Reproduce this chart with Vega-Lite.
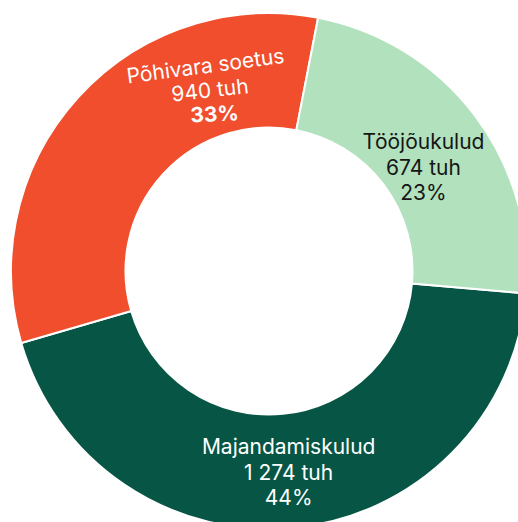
{
  "$schema": "https://vega.github.io/schema/vega-lite/v6.json",
  "width": 538,
  "height": 542,
  "autosize": {"type": "none"},
  "padding": 0,
  "background": "white",
  "config": {"view": {"stroke": null}, "font": "Inter"},
  "data": {
    "values": [
      {"category": "Majandamiskulud", "value": 1274, "amount": "1 274 tuh", "pct": "44%"},
      {"category": "Põhivara soetus", "value": 940, "amount": "940 tuh", "pct": "33%"},
      {"category": "Tööjõukulud", "value": 674, "amount": "674 tuh", "pct": "23%"}
    ]
  },
  "transform": [
    {"calculate": "[datum.category, datum.amount, datum.pct]", "as": "lines"}
  ],
  "encoding": {
    "theta": {"field": "value", "type": "quantitative", "stack": true, "scale": {"range": [1.658, 7.941]}},
    "order": {"field": "category", "sort": "ascending"}
  },
  "layer": [
    {
      "mark": {"type": "arc", "innerRadius": 143.5, "outerRadius": 258, "stroke": "white", "strokeWidth": 2},
      "encoding": {
        "color": {
          "field": "category",
          "type": "nominal",
          "legend": null,
          "scale": {
            "domain": ["Majandamiskulud", "Põhivara soetus", "Tööjõukulud"],
            "range": ["#075645", "#F04E2C", "#B2E1BE"]
          }
        }
      }
    },
    {
      "mark": {"type": "text", "radius": 170, "dx": 18.7, "dy": -19.2, "align": "center", "baseline": "alphabetic", "fontSize": 21, "lineHeight": 25.5, "color": "#161616"},
      "encoding": {
        "text": {"condition": {"test": "datum.category === 'Tööjõukulud'", "field": "lines"}, "value": ""}
      }
    },
    {
      "mark": {"type": "text", "radius": 185, "dx": 1.6, "dy": -0.8, "align": "center", "baseline": "alphabetic", "fontSize": 21, "lineHeight": 25.5, "color": "white"},
      "encoding": {
        "text": {"condition": {"test": "datum.category === 'Majandamiskulud'", "field": "lines"}, "value": ""}
      }
    },
    {
      "mark": {"type": "text", "radius": 200, "dx": 92.6, "dy": -51.4, "angle": {"expr": "-7.5"}, "align": "center", "baseline": "alphabetic", "fontSize": 21, "color": "white"},
      "encoding": {
        "text": {"condition": {"test": "datum.category === 'Põhivara soetus'", "field": "category"}, "value": ""}
      }
    },
    {
      "mark": {"type": "text", "radius": 200, "dx": 93.3, "dy": -28.4, "angle": {"expr": "-6.5"}, "align": "center", "baseline": "alphabetic", "fontSize": 21, "color": "white"},
      "encoding": {
        "text": {"condition": {"test": "datum.category === 'Põhivara soetus'", "field": "amount"}, "value": ""}
      }
    },
    {
      "mark": {"type": "text", "radius": 200, "dx": 94.3, "dy": -9.9, "angle": {"expr": "-3"}, "align": "center", "baseline": "alphabetic", "fontSize": 21, "fontWeight": "bold", "color": "white"},
      "encoding": {
        "text": {"condition": {"test": "datum.category === 'Põhivara soetus'", "field": "pct"}, "value": ""}
      }
    }
  ]
}
